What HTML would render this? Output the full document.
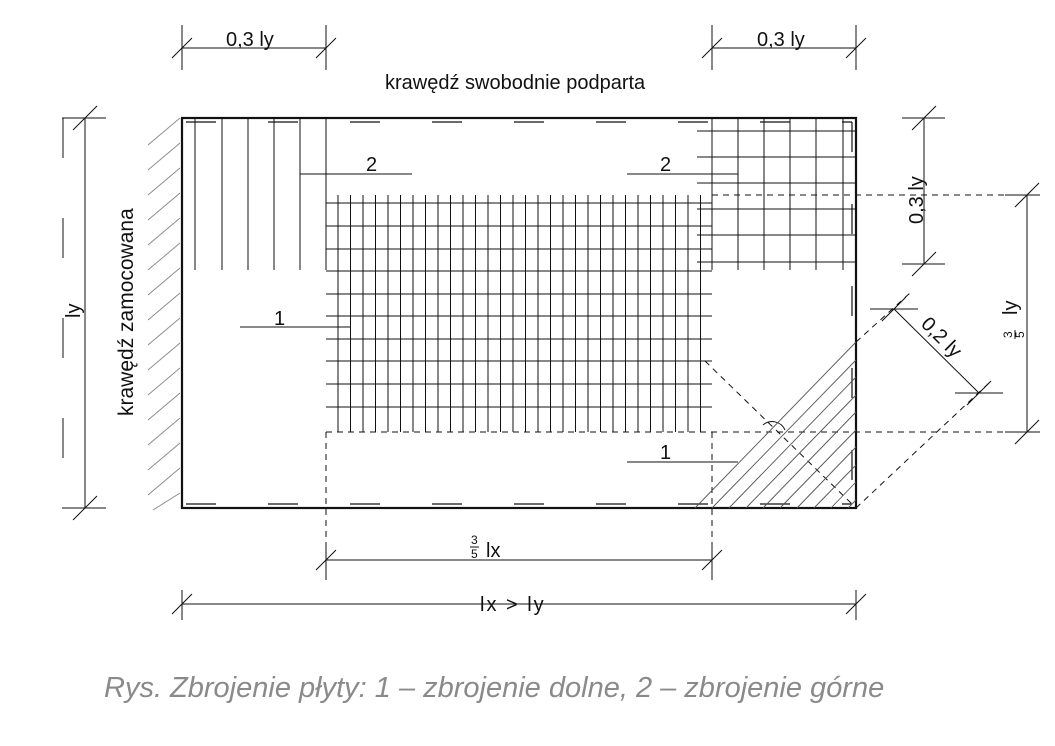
<!DOCTYPE html>
<html><head><meta charset="utf-8"><style>
html,body{margin:0;padding:0;background:#fff;}
svg{display:block;}
text{font-family:"Liberation Sans",Arial,sans-serif;fill:#111;}
</style></head><body>
<svg width="1055" height="746" viewBox="0 0 1055 746" xmlns="http://www.w3.org/2000/svg">
<g stroke="#111" fill="none" stroke-width="1">
<g stroke="#888" stroke-width="0.9">
<line x1="148" y1="145" x2="180" y2="118"/><line x1="148" y1="170" x2="180" y2="143"/><line x1="148" y1="195" x2="180" y2="168"/><line x1="148" y1="220" x2="180" y2="193"/><line x1="148" y1="245" x2="180" y2="218"/><line x1="148" y1="270" x2="180" y2="243"/><line x1="148" y1="295" x2="180" y2="268"/><line x1="148" y1="320" x2="180" y2="293"/><line x1="148" y1="345" x2="180" y2="318"/><line x1="148" y1="370" x2="180" y2="343"/><line x1="148" y1="395" x2="180" y2="368"/><line x1="148" y1="420" x2="180" y2="393"/><line x1="148" y1="445" x2="180" y2="418"/><line x1="148" y1="470" x2="180" y2="443"/><line x1="148" y1="495" x2="180" y2="468"/><line x1="153" y1="510" x2="180" y2="493"/>
</g>
<rect x="182" y="118" width="674" height="390" stroke-width="2.2"/>
<line x1="186" y1="122" x2="852" y2="122" stroke-dasharray="30,52" stroke-width="1.2"/>
<line x1="186" y1="504" x2="852" y2="504" stroke-dasharray="30,52" stroke-width="1.2"/>
<line x1="852" y1="122" x2="852" y2="504" stroke-dasharray="30,52" stroke-width="1.2"/>
<line x1="195" y1="118" x2="195" y2="270"/><line x1="222" y1="118" x2="222" y2="270"/><line x1="248" y1="118" x2="248" y2="270"/><line x1="274" y1="118" x2="274" y2="270"/><line x1="300" y1="118" x2="300" y2="270"/>
<line x1="326" y1="118" x2="326" y2="270"/>
<line x1="300" y1="174" x2="412" y2="174"/>
<line x1="326" y1="203" x2="712" y2="203"/><line x1="326" y1="226" x2="712" y2="226"/><line x1="326" y1="249" x2="712" y2="249"/><line x1="326" y1="271" x2="712" y2="271"/><line x1="326" y1="294" x2="712" y2="294"/><line x1="326" y1="316" x2="712" y2="316"/><line x1="326" y1="339" x2="712" y2="339"/><line x1="326" y1="361" x2="712" y2="361"/><line x1="326" y1="384" x2="712" y2="384"/><line x1="326" y1="407" x2="712" y2="407"/>
<path d="M338 195V432M350.5 195V432M363 195V432M375.5 195V432M388 195V432M400.5 195V432M413 195V432M425.5 195V432M438 195V432M450.5 195V432M463 195V432M475.5 195V432M488 195V432M500.5 195V432M513 195V432M525.5 195V432M538 195V432M550.5 195V432M563 195V432M575.5 195V432M588 195V432M600.5 195V432M613 195V432M625.5 195V432M638 195V432M650.5 195V432M663 195V432M675.5 195V432M688 195V432M700.5 195V432"/>
<line x1="240" y1="327" x2="350" y2="327"/>
<path d="M712 118V270M738 118V270M764 118V270M790 118V270M816 118V270M843 118V270"/>
<path d="M697 131H857M697 157H857M697 183H857M697 209H857M697 235H857M697 262H857"/>
<line x1="627" y1="174" x2="738" y2="174"/>
<g stroke-dasharray="6,5" stroke-width="1">
<line x1="712" y1="195" x2="1040" y2="195"/>
<line x1="326" y1="432" x2="1040" y2="432"/>
<line x1="326" y1="432" x2="326" y2="570"/>
<line x1="712" y1="432" x2="712" y2="570"/>
<line x1="705" y1="361" x2="853" y2="505"/>
<line x1="856" y1="342" x2="910" y2="293"/>
<line x1="856" y1="508" x2="990" y2="382"/>
</g>
<path d="M763 425 A14 14 0 0 1 785 430" />
<g stroke="#555" stroke-width="0.9">
<line x1="695" y1="508" x2="856" y2="342"/>
<line x1="712" y1="508" x2="856" y2="360"/><line x1="729" y1="508" x2="856" y2="377"/><line x1="746" y1="508" x2="856" y2="395"/><line x1="763" y1="508" x2="856" y2="412"/><line x1="780" y1="508" x2="856" y2="430"/><line x1="797" y1="508" x2="856" y2="447"/><line x1="814" y1="508" x2="856" y2="465"/><line x1="831" y1="508" x2="856" y2="482"/><line x1="848" y1="508" x2="856" y2="500"/>
</g>
<line x1="627" y1="462" x2="738" y2="462"/>
<path d="M182 25V70M326 25V70M182 48H326M172 58L192 38M316 58L336 38"/>
<path d="M712 25V70M856 25V70M712 48H856M702 58L722 38M846 58L866 38"/>
<path d="M85 118V508M62 118H106M62 508H106M73 130L97 106M73 520L97 496"/>
<line x1="63" y1="118" x2="63" y2="508" stroke-dasharray="40,60"/>
<path d="M924 118V264M902 118H945M902 264H945M912 130L936 106M912 276L936 252"/>
<path d="M1027 195V432M1005 195H1040M1005 432H1040M1015 207L1039 183M1015 444L1039 420"/>
<path d="M894 309L979 393M870 309H918M955 393H1003M882 321L906 297M967 405L991 381"/>
<path d="M326 545V580M712 545V580M326 560H712M316 570L336 550M702 570L722 550"/>
<path d="M182 590V620M856 590V620M182 604H856M172 614L192 594M846 614L866 594"/>
</g>
<g font-size="20">
<text x="226" y="46">0,3 ly</text>
<text x="757" y="46">0,3 ly</text>
<text x="385" y="89">krawędź swobodnie podparta</text>
<text x="366" y="171">2</text>
<text x="660" y="171">2</text>
<text x="274" y="325">1</text>
<text x="660" y="459">1</text>
<text transform="translate(133,416) rotate(-90)" font-size="21">krawędź zamocowana</text>
<text transform="translate(80,318) rotate(-90)">ly</text>
<text transform="translate(923,224) rotate(-90)">0,3 ly</text>
<text transform="translate(920,325) rotate(45)">0,2 ly</text>
<text x="486" y="557">lx</text>
<text x="480" y="611" letter-spacing="2">lx &gt; ly</text>
<text transform="translate(1017,315) rotate(-90)">ly</text>
</g>
<g font-size="12">
<text x="471" y="544">3</text><text x="471" y="558">5</text>
<line x1="470" y1="547" x2="479" y2="547" stroke="#111"/>
<g transform="translate(1002,338) rotate(-90)">
<text x="0" y="10">3</text><text x="0" y="22">5</text>
<line x1="-1" y1="13" x2="8" y2="13" stroke="#111"/>
</g>
</g>
<text x="104" y="697" font-size="29" font-style="italic" style="fill:#8a8a8a">Rys. Zbrojenie płyty: 1 – zbrojenie dolne, 2 – zbrojenie górne</text>
</svg>
</body></html>
